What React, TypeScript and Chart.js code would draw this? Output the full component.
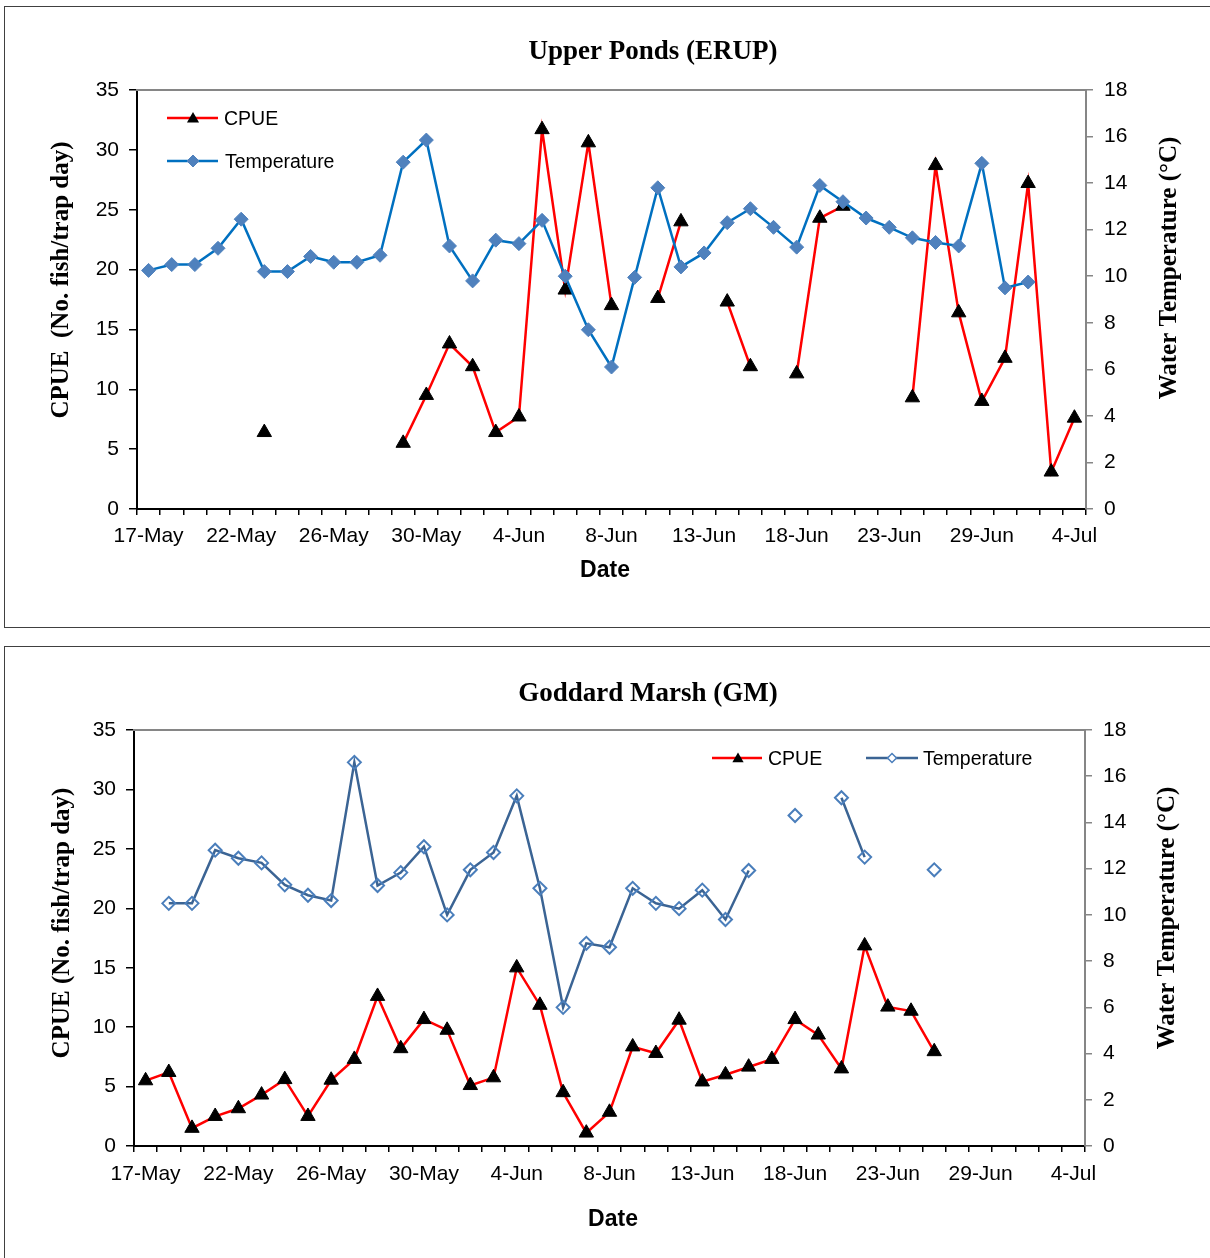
import React, { useEffect, useRef } from 'react';
import { Chart, registerables } from 'chart.js';

Chart.register(...registerables);

// ---------- data ----------
const dateLabels = [
  '17-May', '18-May', '19-May', '21-May', '22-May', '23-May', '24-May', '25-May', '26-May', '27-May',
  '28-May', '29-May', '30-May', '31-May', '1-Jun', '3-Jun', '4-Jun', '5-Jun', '6-Jun', '7-Jun',
  '8-Jun', '9-Jun', '10-Jun', '11-Jun', '13-Jun', '14-Jun', '15-Jun', '16-Jun', '18-Jun', '19-Jun',
  '20-Jun', '21-Jun', '23-Jun', '24-Jun', '26-Jun', '27-Jun', '29-Jun', '30-Jun', '1-Jul', '2-Jul',
  '4-Jul',
];
const labelEvery = 4;

const erupCpue = [
  null, null, null, null, null, 6.4, null, null, null, null,
  null, 5.5, 9.5, 13.8, 11.9, 6.4, 7.7, 31.7, 18.3, 30.6,
  17.0, null, 17.6, 24.0, null, 17.3, 11.9, null, 11.3, 24.3,
  25.3, null, null, 9.3, 28.7, 16.4, 9.0, 12.6, 27.2, 3.1,
  7.6,
];
const erupTemp = [
  10.25, 10.5, 10.5, 11.2, 12.45, 10.2, 10.2, 10.85, 10.6, 10.6,
  10.9, 14.9, 15.85, 11.3, 9.8, 11.55, 11.4, 12.4, 10.0, 7.7,
  6.1, 9.95, 13.8, 10.4, 11.0, 12.3, 12.9, 12.1, 11.25, 13.9,
  13.2, 12.5, 12.1, 11.65, 11.45, 11.3, 14.85, 9.5, 9.75, null,
  null,
];
const gmCpue = [
  5.5, 6.2, 1.5, 2.5, 3.15, 4.3, 5.6, 2.5, 5.55, 7.3,
  12.6, 8.2, 10.65, 9.75, 5.1, 5.75, 15.0, 11.85, 4.5, 1.1,
  2.85, 8.35, 7.8, 10.6, 5.4, 6.0, 6.65, 7.3, 10.65, 9.35,
  6.5, 16.85, 11.7, 11.35, 7.95, null, null, null, null, null,
  null,
];
const gmTemp = [
  null, 10.5, 10.5, 12.8, 12.45, 12.25, 11.3, 10.85, 10.62, 16.6,
  11.27, 11.83, 12.95, 10.0, 11.95, 12.7, 15.15, 11.15, 6.0, 8.77,
  8.6, 11.15, 10.5, 10.27, 11.07, 9.8, 11.92, null, 14.3, null,
  15.07, 12.5, null, null, 11.95, null, null, null, null, null,
  null,
];

const cpueMax = 35;
const cpueStep = 5;
const tempMax = 18;
const tempStep = 2;

// ---------- styling ----------
const SANS = "'Liberation Sans', Arial, sans-serif";
const SERIF = "'Liberation Serif', 'Times New Roman', serif";
const GRAY = '#868686';

type LegendItem = {
  label: string;
  kind: 'cpue' | 'tempFilled' | 'tempHollow';
  lineColor: string;
  x0: number;
  x1: number;
  mx: number;
  tx: number;
  y: number;
  mr: number;
};

type Spec = {
  top: number;
  w: number;
  h: number;
  area: { left: number; right: number; top: number; bottom: number };
  tickPad: number;
  title: string;
  titlePos: [number, number];
  yTitle: string;
  yTitlePos: [number, number];
  y1Title: string;
  y1TitlePos: [number, number];
  xTitle: string;
  xTitlePos: [number, number];
  cpue: (number | null)[];
  temp: (number | null)[];
  tempLine: string;
  tempMarkerFill: string;
  tempMarkerStroke: string;
  tempMarkerRadius: number;
  legend: LegendItem[];
};

function drawTriangle(ctx: CanvasRenderingContext2D, x: number, y: number, r: number) {
  ctx.beginPath();
  ctx.moveTo(x, y - r);
  ctx.lineTo(x + 0.866 * r, y + 0.5 * r);
  ctx.lineTo(x - 0.866 * r, y + 0.5 * r);
  ctx.closePath();
  ctx.fillStyle = '#000';
  ctx.fill();
}

function drawDiamond(ctx: CanvasRenderingContext2D, x: number, y: number, r: number, fill: string | null, stroke: string, lw: number) {
  ctx.beginPath();
  ctx.moveTo(x - r, y);
  ctx.lineTo(x, y - r);
  ctx.lineTo(x + r, y);
  ctx.lineTo(x, y + r);
  ctx.closePath();
  if (fill) {
    ctx.fillStyle = fill;
    ctx.fill();
  }
  ctx.strokeStyle = stroke;
  ctx.lineWidth = lw;
  ctx.stroke();
}

function makeDecor(spec: Spec) {
  return {
    id: 'decor',
    afterDraw(chart: any) {
      const ctx: CanvasRenderingContext2D = chart.ctx;
      const a = chart.chartArea;
      ctx.save();
      // top frame line
      ctx.strokeStyle = GRAY;
      ctx.lineWidth = 2;
      ctx.beginPath();
      ctx.moveTo(a.left - 1, a.top);
      ctx.lineTo(a.right + 1, a.top);
      ctx.stroke();

      ctx.fillStyle = '#000';
      ctx.textAlign = 'center';
      ctx.textBaseline = 'middle';
      // chart title
      ctx.font = `bold 27px ${SERIF}`;
      ctx.fillText(spec.title, spec.titlePos[0], spec.titlePos[1]);
      // x title
      ctx.font = `bold 23px ${SANS}`;
      ctx.fillText(spec.xTitle, spec.xTitlePos[0], spec.xTitlePos[1]);
      // y titles (rotated)
      ctx.font = `bold 25px ${SERIF}`;
      ctx.save();
      ctx.translate(spec.yTitlePos[0], spec.yTitlePos[1]);
      ctx.rotate(-Math.PI / 2);
      ctx.fillText(spec.yTitle, 0, 0);
      ctx.restore();
      ctx.save();
      ctx.translate(spec.y1TitlePos[0], spec.y1TitlePos[1]);
      ctx.rotate(-Math.PI / 2);
      ctx.fillText(spec.y1Title, 0, 0);
      ctx.restore();

      // legend
      ctx.font = `19.5px ${SANS}`;
      ctx.textAlign = 'left';
      for (const it of spec.legend) {
        ctx.strokeStyle = it.lineColor;
        ctx.lineWidth = 2.5;
        ctx.beginPath();
        ctx.moveTo(it.x0, it.y);
        ctx.lineTo(it.x1, it.y);
        ctx.stroke();
        if (it.kind === 'cpue') drawTriangle(ctx, it.mx, it.y + 1, it.mr);
        else if (it.kind === 'tempFilled') drawDiamond(ctx, it.mx, it.y, it.mr, spec.tempMarkerFill, spec.tempMarkerFill, 1);
        else drawDiamond(ctx, it.mx, it.y, it.mr, '#fff', spec.tempMarkerStroke, 1.5);
        ctx.fillStyle = '#000';
        ctx.fillText(it.label, it.tx, it.y + 1.5);
      }
      ctx.restore();
    },
  };
}

function buildConfig(spec: Spec): any {
  const tickFont = { family: SANS, size: 21 };
  const hollow = spec.tempMarkerFill === 'transparent';
  return {
    type: 'line',
    data: {
      labels: dateLabels,
      datasets: [
        {
          label: 'CPUE',
          data: spec.cpue,
          yAxisID: 'y',
          borderColor: '#FF0000',
          borderWidth: 2.5,
          pointStyle: 'triangle',
          pointRadius: 8.3,
          pointBackgroundColor: '#000',
          pointBorderColor: '#000',
          pointBorderWidth: 1,
          spanGaps: false,
          tension: 0,
          fill: false,
          order: 2,
        },
        {
          label: 'Temperature',
          data: spec.temp,
          yAxisID: 'y1',
          borderColor: spec.tempLine,
          borderWidth: 2.5,
          pointStyle: 'rectRot',
          pointRadius: spec.tempMarkerRadius,
          pointBackgroundColor: hollow ? 'rgba(255,255,255,0)' : spec.tempMarkerFill,
          pointBorderColor: spec.tempMarkerStroke,
          pointBorderWidth: hollow ? 2 : 1,
          spanGaps: false,
          tension: 0,
          fill: false,
          order: 1,
        },
      ],
    },
    options: {
      responsive: false,
      animation: false,
      events: [],
      layout: { padding: { top: spec.area.top, left: 0, right: 0, bottom: 0 } },
      plugins: {
        legend: { display: false },
        title: { display: false },
        tooltip: { enabled: false },
      },
      scales: {
        x: {
          type: 'category',
          offset: true,
          grid: { offset: true, drawOnChartArea: false, drawTicks: true, tickLength: 6, color: '#000', lineWidth: 1.5 },
          border: { display: true, color: '#000', width: 2 },
          ticks: {
            autoSkip: false,
            maxRotation: 0,
            minRotation: 0,
            padding: spec.tickPad,
            color: '#000',
            font: tickFont,
            callback: (_v: any, i: number) => (i % labelEvery === 0 ? dateLabels[i] : ''),
          },
          afterFit: (s: any) => {
            s.height = spec.h - spec.area.bottom;
          },
        },
        y: {
          position: 'left',
          min: 0,
          max: cpueMax,
          grid: { drawOnChartArea: false, tickLength: 8, color: '#000', lineWidth: 1.5 },
          border: { display: true, color: '#000', width: 2 },
          ticks: { stepSize: cpueStep, padding: 10, color: '#000', font: tickFont },
          afterFit: (s: any) => {
            s.width = spec.area.left;
          },
        },
        y1: {
          position: 'right',
          min: 0,
          max: tempMax,
          grid: { drawOnChartArea: false, tickLength: 7, color: GRAY, lineWidth: 1.5 },
          border: { display: true, color: GRAY, width: 2 },
          ticks: { stepSize: tempStep, padding: 11, color: '#000', font: tickFont },
          afterFit: (s: any) => {
            s.width = spec.w - spec.area.right;
          },
        },
      },
    },
    plugins: [makeDecor(spec)],
  };
}

const topSpec: Spec = {
  top: 0,
  w: 1210,
  h: 630,
  area: { left: 137, right: 1086, top: 90, bottom: 509 },
  tickPad: 9,
  title: 'Upper Ponds (ERUP)',
  titlePos: [653, 52],
  yTitle: 'CPUE  (No. fish/trap day)',
  yTitlePos: [62, 280],
  y1Title: 'Water Temperature (°C)',
  y1TitlePos: [1170, 268],
  xTitle: 'Date',
  xTitlePos: [605, 571],
  cpue: erupCpue,
  temp: erupTemp,
  tempLine: '#0070C0',
  tempMarkerFill: '#4F81BD',
  tempMarkerStroke: '#4F81BD',
  tempMarkerRadius: 7,
  legend: [
    { label: 'CPUE', kind: 'cpue', lineColor: '#FF0000', x0: 167, x1: 218, mx: 193, tx: 224, y: 118, mr: 7 },
    { label: 'Temperature', kind: 'tempFilled', lineColor: '#0070C0', x0: 167, x1: 218, mx: 193, tx: 225, y: 161, mr: 6 },
  ],
};

const bottomSpec: Spec = {
  top: 640,
  w: 1210,
  h: 618,
  area: { left: 134, right: 1085, top: 90, bottom: 506 },
  tickPad: 10,
  title: 'Goddard Marsh (GM)',
  titlePos: [648, 54],
  yTitle: 'CPUE (No. fish/trap day)',
  yTitlePos: [63, 283],
  y1Title: 'Water Temperature (°C)',
  y1TitlePos: [1168, 278],
  xTitle: 'Date',
  xTitlePos: [613, 580],
  cpue: gmCpue,
  temp: gmTemp,
  tempLine: '#3B6494',
  tempMarkerFill: 'transparent',
  tempMarkerStroke: '#4A7EBB',
  tempMarkerRadius: 6.5,
  legend: [
    { label: 'CPUE', kind: 'cpue', lineColor: '#FF0000', x0: 712, x1: 762, mx: 738, tx: 768, y: 118, mr: 6.5 },
    { label: 'Temperature', kind: 'tempHollow', lineColor: '#3B6494', x0: 866, x1: 918, mx: 892, tx: 923, y: 118, mr: 4.5 },
  ],
};

function Panel({ spec }: { spec: Spec }) {
  const ref = useRef<HTMLCanvasElement>(null);
  useEffect(() => {
    if (!ref.current) return;
    const chart = new Chart(ref.current, buildConfig(spec));
    return () => chart.destroy();
  }, [spec]);
  return (
    <canvas
      ref={ref}
      width={spec.w}
      height={spec.h}
      style={{ position: 'absolute', left: 0, top: spec.top, width: spec.w, height: spec.h }}
    />
  );
}

export default function App() {
  return (
    <div
      style={{
        position: 'absolute',
        left: 0,
        top: 0,
        width: 1210,
        height: 1258,
        overflow: 'hidden',
        background: '#fff',
      }}
    >
      <div style={{ position: 'absolute', left: 4, top: 6, width: 1240, height: 620, border: '1px solid #404040' }} />
      <div style={{ position: 'absolute', left: 4, top: 646, width: 1240, height: 700, border: '1px solid #404040' }} />
      <Panel spec={topSpec} />
      <Panel spec={bottomSpec} />
    </div>
  );
}
